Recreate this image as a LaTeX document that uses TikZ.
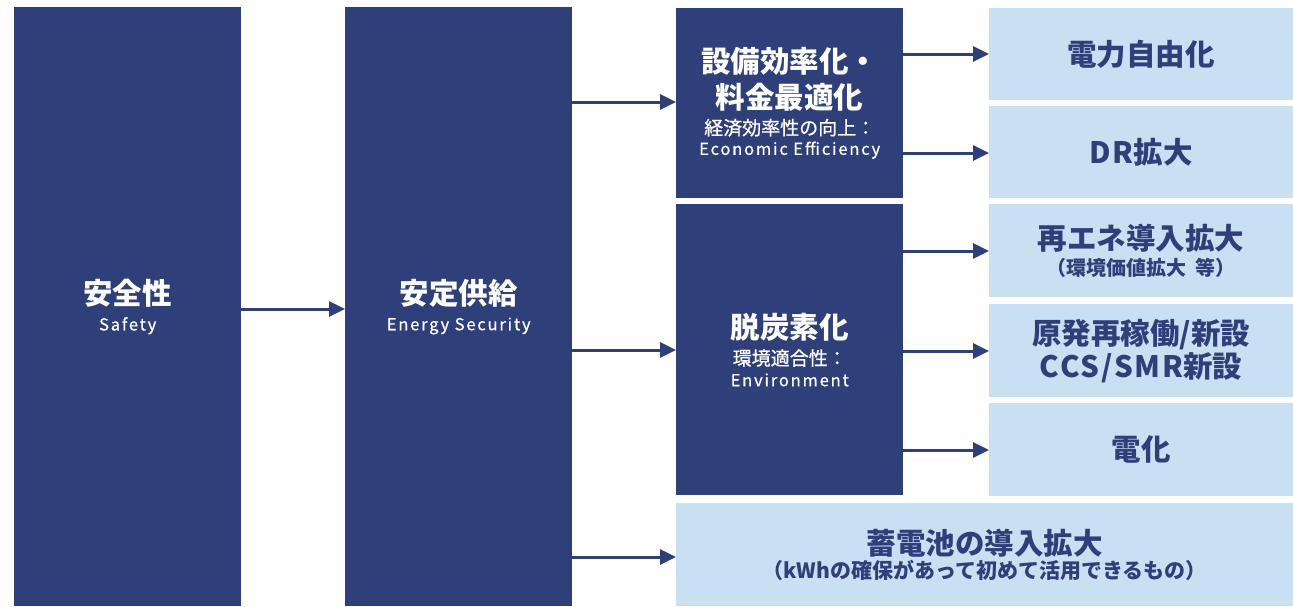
\documentclass[tikz,border=0pt]{standalone}
\usepackage{fontspec}
\setmainfont{Noto Sans CJK JP}
\newfontfamily\lat{Noto Sans CJK JP}[LetterSpace=11,FakeBold=0.7]
\newfontfamily\medf{Noto Sans CJK JP}[FakeBold=0.7]
\newfontfamily\latb{Noto Sans CJK JP}[LetterSpace=6]
\usetikzlibrary{arrows.meta}
\definecolor{navy}{RGB}{47,63,122}
\definecolor{pale}{RGB}{201,223,242}
\newcommand{\mainsz}{\fontsize{29.5}{0}\selectfont\bfseries}
\newcommand{\palesz}{\fontsize{29.5}{0}\selectfont\bfseries}
\newcommand{\subsz}{\fontsize{19}{0}\selectfont\medf}
\newcommand{\palesub}{\fontsize{20}{0}\selectfont\bfseries}
\newcommand{\latsz}{\fontsize{16.5}{0}\selectfont\lat}
\tikzset{
  box/.style={inner sep=0pt, anchor=north west, align=center,
    execute at begin node={\lineskiplimit=-100pt\lineskip=0pt\baselineskip=0pt}},
  darkbox/.style={box, fill=navy, text=white},
  palebox/.style={box, fill=pale, text=navy},
  arr/.style={draw=navy, line width=3pt, -{Triangle[length=16pt,width=15pt]}}
}
\begin{document}
\begin{tikzpicture}[x=1pt,y=-1pt]
\useasboundingbox (0,0) rectangle (1293,606);
% dark boxes
\node[darkbox, minimum width=227pt, minimum height=599pt] (b1) at (14,7)
  {\mainsz 安全性\\[26pt]\latsz Safety};
\node[darkbox, minimum width=227pt, minimum height=599pt] (b2) at (345,7)
  {\mainsz 安定供給\\[26pt]\latsz Energy Security};
\node[darkbox, minimum width=227pt, minimum height=190pt] (b3) at (676,8)
  {\mainsz 設備効率化・\\[36pt]\mainsz 料金最適化\\[26pt]\subsz 経済効率性の向上：\\[20pt]\latsz Economic Efficiency};
\node[darkbox, minimum width=227pt, minimum height=291pt] (b4) at (676,204)
  {\mainsz 脱炭素化\\[27pt]\subsz 環境適合性：\\[21pt]\latsz Environment};
% pale boxes
\node[palebox, minimum width=304pt, minimum height=92pt] (l1) at (989,8)
  {\palesz 電力自由化};
\node[palebox, minimum width=304pt, minimum height=92pt] (l2) at (989,106)
  {\palesz {\latb DR}拡大};
\node[palebox, minimum width=304pt, minimum height=93pt] (l3) at (989,204)
  {\palesz 再エネ導入拡大\\[26pt]\palesub （環境価値拡大\hspace{0.45em}等）};
\node[palebox, minimum width=304pt, minimum height=93pt] (l4) at (989,304)
  {\palesz 原発再稼働/新設\\[33pt]\palesz {\latb CCS/SMR}新設};
\node[palebox, minimum width=304pt, minimum height=93pt] (l5) at (989,403)
  {\palesz 電化};
\node[palebox, minimum width=617pt, minimum height=103pt] (l6) at (676,503)
  {\palesz 蓄電池の導入拡大\\[24pt]\fontsize{21}{0}\selectfont\bfseries （kWhの確保があって初めて活用できるもの）};
% arrows
\draw[arr] (b1.east |- 0,309) -- (b2.west |- 0,309);
\draw[arr] (b2.east |- 0,102) -- (b3.west |- 0,102);
\draw[arr] (b2.east |- 0,350) -- (b4.west |- 0,350);
\draw[arr] (b2.east |- 0,557) -- (l6.west |- 0,557);
\draw[arr] (b3.east |- 0,54) -- (l1.west |- 0,54);
\draw[arr] (b3.east |- 0,153) -- (l2.west |- 0,153);
\draw[arr] (b4.east |- 0,251) -- (l3.west |- 0,251);
\draw[arr] (b4.east |- 0,351) -- (l4.west |- 0,351);
\draw[arr] (b4.east |- 0,450) -- (l5.west |- 0,450);
\end{tikzpicture}
\end{document}
